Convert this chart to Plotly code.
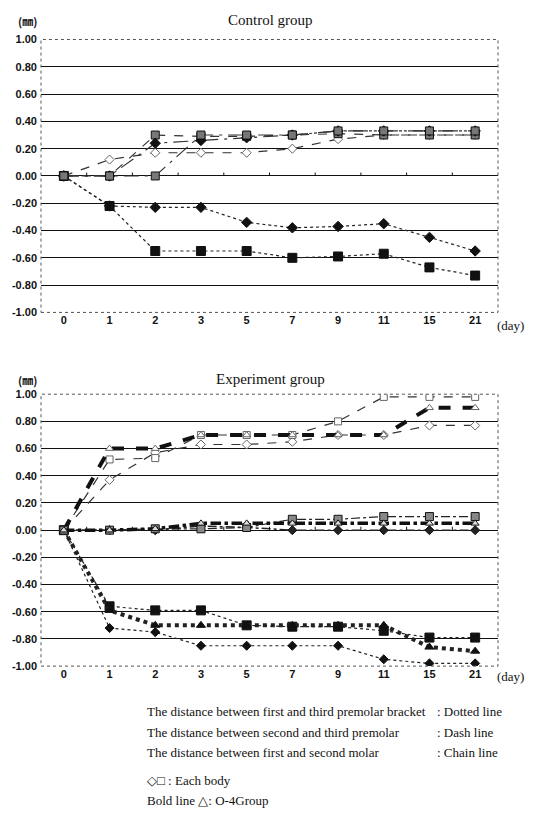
import plotly.graph_objects as go

days = ["0", "1", "2", "3", "5", "7", "9", "11", "15", "21"]
y_ticks = [1.0, 0.8, 0.6, 0.4, 0.2, 0.0, -0.2, -0.4, -0.6, -0.8, -1.0]
y_tick_text = ["1.00", "0.80", "0.60", "0.40", "0.20", "0.00", "-0.20", "-0.40", "-0.60", "-0.80", "-1.00"]

# Control group (each body: diamond, square)
ctrl_dot_diamond = [0, -0.22, -0.23, -0.23, -0.34, -0.38, -0.37, -0.35, -0.45, -0.55]
ctrl_dot_square = [0, -0.22, -0.55, -0.55, -0.55, -0.60, -0.59, -0.57, -0.67, -0.73]
ctrl_dash_diamond = [0, 0.12, 0.17, 0.17, 0.17, 0.20, 0.27, 0.30, 0.30, 0.30]
ctrl_dash_square = [0, 0, 0.30, 0.29, 0.29, 0.30, 0.31, 0.30, 0.30, 0.30]
ctrl_chain_diamond = [0, 0, 0.24, 0.26, 0.28, 0.30, 0.33, 0.33, 0.33, 0.33]
ctrl_chain_square = [0, 0, 0, 0.30, 0.30, 0.30, 0.33, 0.33, 0.33, 0.33]

# Experiment group
exp_dot_diamond = [0, -0.72, -0.75, -0.85, -0.85, -0.85, -0.85, -0.95, -0.98, -0.98]
exp_dot_square = [0, -0.56, -0.59, -0.59, -0.70, -0.71, -0.71, -0.74, -0.79, -0.79]
exp_dot_group = [0, -0.59, -0.70, -0.70, -0.70, -0.70, -0.70, -0.70, -0.86, -0.89]
exp_dash_diamond = [0, 0.37, 0.57, 0.63, 0.63, 0.65, 0.70, 0.70, 0.77, 0.77]
exp_dash_square = [0, 0.52, 0.53, 0.70, 0.70, 0.70, 0.80, 0.98, 0.98, 0.98]
exp_dash_group = [0, 0.60, 0.60, 0.70, 0.70, 0.70, 0.70, 0.70, 0.90, 0.90]
exp_chain_diamond = [0, 0, 0, 0.03, 0.02, 0.0, 0.0, 0.0, 0.0, 0.0]
exp_chain_square = [0, 0, 0.01, 0.01, 0.02, 0.08, 0.08, 0.10, 0.10, 0.10]
exp_chain_group = [0, 0, 0.01, 0.05, 0.05, 0.05, 0.05, 0.05, 0.05, 0.05]

W, H = 544, 814
fig = go.Figure()


def add(y, xa, ya, dash, width, symbol, size, fill, outline="#111", color="#222"):
    fig.add_trace(go.Scatter(
        x=days, y=y, xaxis=xa, yaxis=ya, mode="lines+markers",
        line=dict(color=color, width=width, dash=dash),
        marker=dict(symbol=symbol, size=size, color=fill, line=dict(color=outline, width=1)),
        showlegend=False, hoverinfo="skip"))


# Control traces
add(ctrl_dot_diamond, "x", "y", "dot", 1.2, "diamond", 8, "#111")
add(ctrl_dot_square, "x", "y", "dot", 1.2, "square", 9, "#111")
add(ctrl_dash_diamond, "x", "y", "dash", 1.2, "diamond", 7, "white", "#666", "#333")
add(ctrl_dash_square, "x", "y", "dash", 1.2, "square", 8, "#777", "#111", "#333")
add(ctrl_chain_diamond, "x", "y", "longdashdot", 1.2, "diamond", 8, "#111", "#111", "#333")
add(ctrl_chain_square, "x", "y", "longdashdot", 1.2, "square", 8, "#777", "#111", "#333")

# Experiment traces
add(exp_dot_diamond, "x2", "y2", "dot", 1.2, "diamond", 7, "#111")
add(exp_dot_square, "x2", "y2", "dot", 1.2, "square", 9, "#111")
add(exp_dot_group, "x2", "y2", "dot", 4, "triangle-up", 8, "#111")
add(exp_dash_diamond, "x2", "y2", "dash", 1.2, "diamond", 7, "white", "#666", "#333")
add(exp_dash_square, "x2", "y2", "dash", 1.2, "square", 7, "white", "#666", "#333")
add(exp_dash_group, "x2", "y2", "dash", 4, "triangle-up", 7, "white", "#666", "#111")
add(exp_chain_diamond, "x2", "y2", "dashdot", 1.5, "diamond", 7, "#222")
add(exp_chain_square, "x2", "y2", "dashdot", 1.2, "square", 8, "#888", "#111")
add(exp_chain_group, "x2", "y2", "dashdot", 3.5, "triangle-up", 7, "#ddd", "#111", "#111")

xdom = [41 / W, 498 / W]
ydom1 = [1 - 311 / H, 1 - 34 / H]
ydom2 = [1 - 670 / H, 1 - 394 / H]

xax = dict(type="category", categoryorder="array", categoryarray=days,
           range=[-0.5, len(days) - 0.5], domain=xdom, showgrid=False,
           showline=False, zeroline=False, ticks="",
           tickfont=dict(family="Liberation Sans", size=11, color="#111", weight="bold"))
yax = dict(range=[-1, 1], tickvals=y_ticks, ticktext=y_tick_text,
           showgrid=True, gridcolor="#111", gridwidth=1, zeroline=True,
           zerolinecolor="#111", zerolinewidth=1.2, showline=False, ticks="",
           ticklabelstandoff=3,
           tickfont=dict(family="Liberation Sans", size=11, color="#111", weight="bold"))

fig.update_layout(
    width=W, height=H, margin=dict(l=0, r=0, t=0, b=0),
    paper_bgcolor="white", plot_bgcolor="white",
    xaxis=dict(xax, anchor="y"),
    yaxis=dict(yax, domain=ydom1, anchor="x"),
    xaxis2=dict(xax, anchor="y2"),
    yaxis2=dict(yax, domain=ydom2, anchor="x2"),
)

shapes = []
for xr, yr in (("x", "y"), ("x2", "y2")):
    shapes.append(dict(type="rect", xref=xr + " domain", yref=yr + " domain",
                       x0=0, x1=1, y0=0, y1=1,
                       line=dict(color="#555", width=1, dash="dot")))
    for i in range(len(days) - 1):
        shapes.append(dict(type="line", xref=xr, yref=yr, x0=i + 0.5, x1=i + 0.5,
                           y0=0, y1=0.025, line=dict(color="#111", width=1)))
fig.update_layout(shapes=shapes)

serif = "Liberation Serif"
ann = []
for title, ytop in (("Control group", 14), ("Experiment group", 379)):
    ann.append(dict(text=title, x=270 / W, y=1 - ytop / H, xref="paper", yref="paper",
                    showarrow=False, xanchor="center", yanchor="middle",
                    font=dict(family=serif, size=15, color="#111")))
    ann.append(dict(text="(㎜)", x=16 / W, y=1 - (ytop + 1) / H, xref="paper", yref="paper",
                    showarrow=False, xanchor="left", yanchor="middle",
                    font=dict(family="Noto Sans CJK JP", size=11, color="#111", weight="bold")))
for yd in (324, 681):
    ann.append(dict(text="(day)", x=526 / W, y=1 - yd / H, xref="paper", yref="paper",
                    showarrow=False, xanchor="right", yanchor="middle",
                    font=dict(family=serif, size=13, color="#111")))

legend_rows = [
    ("The distance between first and third premolar bracket", ": Dotted line", 716),
    ("The distance between second and third premolar", ": Dash line", 737),
    ("The distance between first and second molar", ": Chain line", 758),
]
for left, right, yy in legend_rows:
    ann.append(dict(text=left, x=145 / W, y=1 - yy / H, xref="paper", yref="paper",
                    showarrow=False, xanchor="left", yanchor="middle",
                    font=dict(family=serif, size=13, color="#111")))
    ann.append(dict(text=right, x=435 / W, y=1 - yy / H, xref="paper", yref="paper",
                    showarrow=False, xanchor="left", yanchor="middle",
                    font=dict(family=serif, size=13, color="#111")))
ann.append(dict(text="◇□ : Each body", x=145 / W, y=1 - 786 / H, xref="paper", yref="paper",
                showarrow=False, xanchor="left", yanchor="middle",
                font=dict(family=serif, size=13, color="#111")))
ann.append(dict(text="Bold line △: O-4Group", x=145 / W, y=1 - 806 / H, xref="paper", yref="paper",
                showarrow=False, xanchor="left", yanchor="middle",
                font=dict(family=serif, size=13, color="#111")))
fig.update_layout(annotations=ann)

fig.write_html("out.html", config={"displayModeBar": False},
               post_script="document.body.style.margin='0';document.body.style.overflow='hidden';")
